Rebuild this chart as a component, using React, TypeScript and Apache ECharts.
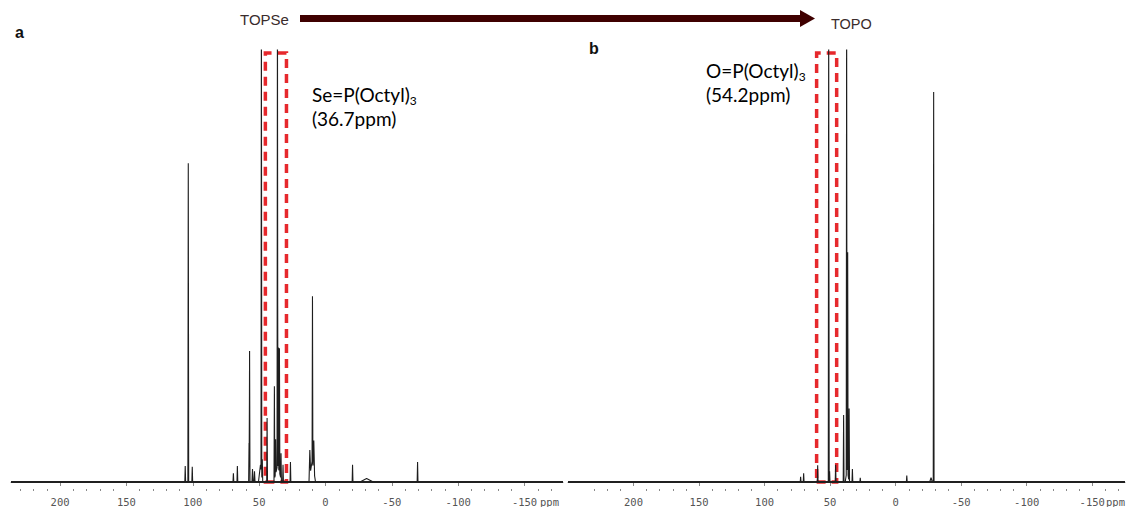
import React, { useEffect, useRef } from "react";
import * as echarts from "echarts";

// ---- Data ----
// Panel a: TOPSe 31P spectrum — peak shifts (ppm), heights (% of plot height), half-widths (ppm)
const topsePpm = [105.7, 103.4, 100.4, 69.4, 66.4, 57.6, 57.2, 55.0, 53.5, 49.0, 48.3, 47.6, 44.0, 38.5, 37.6, 36.2, 36.0, 35.5, 34.7, 33.5, 32.0, 26.4, 11.8, 10.0, 9.8, 8.8, -20.4, -31.0, -69.4];
const topseHeight = [3.7, 73.8, 3.5, 2.0, 3.7, 9.0, 30.3, 3.0, 2.5, 4.0, 110, 5.0, 14.8, 21.5, 8.0, 110, 4.0, 27.8, 28.7, 6.0, 4.0, 4.6, 6.0, 5.0, 38.4, 7.0, 4.0, 0.8, 4.6];
const topseWidth = [0.3, 0.3, 0.3, 0.3, 0.3, 0.3, 0.3, 0.4, 0.4, 1.5, 0.3, 0.3, 0.3, 0.3, 0.3, 0.3, 3.0, 0.3, 0.3, 0.3, 0.3, 0.3, 0.6, 2.5, 0.3, 0.6, 0.3, 5.0, 0.3];
const topseBox = [45.3, 29.4]; // dashed highlight around Se=P(Octyl)3

// Panel b: TOPO 31P spectrum
const topoPpm = [72.5, 70.2, 59.5, 51.1, 50.4, 45.8, 39.7, 37.4, 37.0, 36.6, 35.5, 33.0, 27.0, -8.5, -27.0, -29.0];
const topoHeight = [1.2, 2.0, 3.9, 110, 2.5, 4.0, 15.5, 110, 3.0, 51, 17, 3.0, 1.0, 1.5, 1.0, 90.3];
const topoWidth = [0.3, 0.3, 0.3, 0.3, 0.3, 0.3, 0.3, 0.3, 1.5, 0.3, 0.3, 0.3, 0.3, 0.3, 1.0, 0.3];
const topoBox = [60.3, 45.0]; // dashed highlight around O=P(Octyl)3

// Axis ranges and tick labels
const axisARange = [-179, 237];
const axisBRange = [-175, 250];
const majorTicks = [200, 150, 100, 50, 0, -50, -100, -150];
const minorTicks = [230, 220, 210, 190, 180, 170, 160, 140, 130, 120, 110, 90, 80, 70, 60, 40, 30, 20, 10, -10, -20, -30, -40, -60, -70, -80, -90, -110, -120, -130, -140, -160, -170];

function spectrum(ppm: number[], height: number[], width: number[], range: number[]) {
  const xs = new Set<number>([range[0], range[1]]);
  ppm.forEach((p, i) => {
    xs.add(p - width[i]);
    xs.add(p);
    xs.add(p + width[i]);
  });
  const sorted = Array.from(xs).sort((a, b) => a - b);
  return sorted.map((x) => [
    x,
    ppm.reduce((s, p, i) => s + Math.max(0, height[i] * (1 - Math.abs(x - p) / width[i])), 0),
  ]);
}

const labelFont = "DejaVu Sans Mono";
const red = "#e6282c";

function xAxes(gridIndex: number, range: number[]) {
  return [
    {
      gridIndex,
      type: "value",
      inverse: true,
      min: range[0],
      max: range[1],
      position: "bottom",
      axisLine: { show: true, lineStyle: { color: "#8a8a8a", width: 1 } },
      axisTick: { show: true, customValues: majorTicks, length: 4, lineStyle: { color: "#8a8a8a" } },
      axisLabel: {
        show: true,
        customValues: majorTicks,
        fontFamily: labelFont,
        fontSize: 10.5,
        color: "#555",
        margin: 7,
      },
      splitLine: { show: false },
    },
    {
      gridIndex,
      type: "value",
      inverse: true,
      min: range[0],
      max: range[1],
      position: "bottom",
      axisLine: { show: false },
      axisTick: { show: true, customValues: minorTicks, length: 2, lineStyle: { color: "#8a8a8a" } },
      axisLabel: { show: false },
      splitLine: { show: false },
    },
  ];
}

function yAxis(gridIndex: number) {
  return {
    gridIndex,
    type: "value",
    min: -1.62,
    max: 100,
    show: false,
    splitLine: { show: false },
  };
}

function boxArea(box: number[]) {
  return {
    silent: true,
    itemStyle: {
      color: "rgba(0,0,0,0)",
      borderColor: red,
      borderWidth: 3.5,
      borderType: [9, 6],
    },
    data: [[{ xAxis: box[0], yAxis: 0 }, { xAxis: box[1], yAxis: 99.3 }]],
  };
}

function baseline(xAxisIndex: number, yAxisIndex: number, range: number[]) {
  return {
    type: "line",
    xAxisIndex,
    yAxisIndex,
    data: [[range[0], 0], [range[1], 0]],
    showSymbol: false,
    silent: true,
    lineStyle: { color: "#222", width: 2 },
  };
}

export default function App() {
  const ref = useRef<HTMLDivElement>(null);
  useEffect(() => {
    if (!ref.current) return;
    const chart = echarts.init(ref.current, undefined, { renderer: "svg" });
    const annoRich = {
      t: { fontFamily: "Lato", fontSize: 19, lineHeight: 24, color: "#222" },
      s: { fontFamily: "Lato", fontSize: 12, lineHeight: 24, color: "#222", verticalAlign: "bottom" },
    };
    chart.setOption({
      animation: false,
      backgroundColor: "#ffffff",
      grid: [
        { left: 11, top: 50, width: 552, height: 439 },
        { left: 568, top: 50, width: 557, height: 439 },
      ],
      xAxis: [...xAxes(0, axisARange), ...xAxes(1, axisBRange)],
      yAxis: [yAxis(0), yAxis(1)],
      series: [
        baseline(0, 0, axisARange),
        baseline(2, 1, axisBRange),
        {
          type: "line",
          xAxisIndex: 0,
          yAxisIndex: 0,
          data: spectrum(topsePpm, topseHeight, topseWidth, axisARange),
          showSymbol: false,
          lineStyle: { color: "#1e1e1e", width: 1.1 },
          clip: true,
          markArea: boxArea(topseBox),
        },
        {
          type: "line",
          xAxisIndex: 2,
          yAxisIndex: 1,
          data: spectrum(topoPpm, topoHeight, topoWidth, axisBRange),
          showSymbol: false,
          lineStyle: { color: "#1e1e1e", width: 1.1 },
          clip: true,
          markArea: boxArea(topoBox),
        },
      ],
      graphic: [
        {
          type: "text",
          left: 240,
          top: 12,
          style: { text: "TOPSe", fontFamily: "Liberation Sans", fontSize: 15, fill: "#3a2c2c" },
        },
        {
          type: "rect",
          shape: { x: 300, y: 15, width: 502, height: 7 },
          style: { fill: "#3f0000" },
        },
        {
          type: "polygon",
          shape: { points: [[800, 10], [815, 18.5], [800, 27]] },
          style: { fill: "#3f0000" },
        },
        {
          type: "text",
          left: 831,
          top: 16,
          style: { text: "TOPO", fontFamily: "Liberation Sans", fontSize: 14.5, fill: "#3a2c2c" },
        },
        {
          type: "text",
          left: 15,
          top: 24,
          style: { text: "a", fontFamily: "Liberation Sans", fontWeight: "bold", fontSize: 16, fill: "#111" },
        },
        {
          type: "text",
          left: 589,
          top: 40,
          style: { text: "b", fontFamily: "Liberation Sans", fontWeight: "bold", fontSize: 16, fill: "#111" },
        },
        {
          type: "text",
          left: 312,
          top: 85,
          style: { text: "{t|Se=P(Octyl)}{s|3}", rich: annoRich },
        },
        {
          type: "text",
          left: 312,
          top: 109,
          style: { text: "{t|(36.7ppm)}", rich: annoRich },
        },
        {
          type: "text",
          left: 706,
          top: 61,
          style: { text: "{t|O=P(Octyl)}{s|3}", rich: annoRich },
        },
        {
          type: "text",
          left: 706,
          top: 85,
          style: { text: "{t|(54.2ppm)}", rich: annoRich },
        },
        {
          type: "text",
          x: 540,
          y: 502,
          style: { text: "ppm", fontFamily: labelFont, fontSize: 10.5, fill: "#555", verticalAlign: "middle" },
        },
        {
          type: "text",
          x: 1106,
          y: 502,
          style: { text: "ppm", fontFamily: labelFont, fontSize: 10.5, fill: "#555", verticalAlign: "middle" },
        },
      ],
    });
    return () => chart.dispose();
  }, []);
  return (
    <div
      ref={ref}
      style={{ position: "fixed", left: 0, top: 0, width: 1128, height: 507, background: "#fff" }}
    />
  );
}
